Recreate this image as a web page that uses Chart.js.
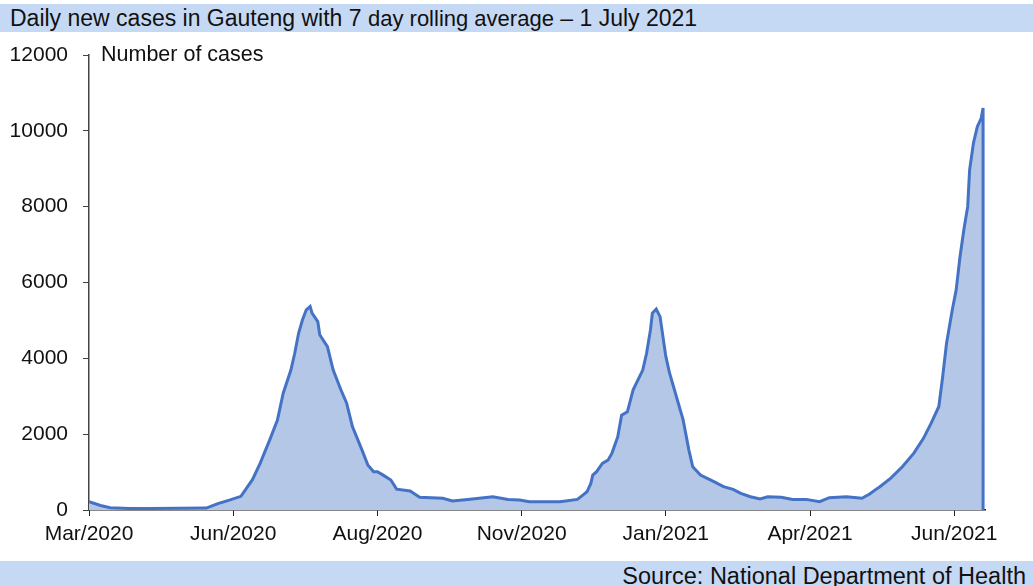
<!DOCTYPE html>
<html>
<head>
<meta charset="utf-8">
<script src="https://cdn.jsdelivr.net/npm/chart.js@4"></script>
<style>
  body { margin: 0; width: 1033px; height: 586px; overflow: hidden; background: #fff; position: relative;
         font-family: "Liberation Sans", Arial, sans-serif; color: #111; }
  #chart-box { position: absolute; left: 0; top: 0; width: 1033px; height: 586px; }
  .barra { position: absolute; left: 0; width: 1033px; background: #c6d9f4; overflow: hidden; white-space: nowrap; }
  #titulo { top: 4px; height: 28px; line-height: 29px; font-size: 23px; padding-left: 10px; box-sizing: border-box; }
  #titulo span { font-size: 22px; }
  #fonte { top: 561px; height: 25px; line-height: 31px; font-size: 23.5px; text-align: right; padding-right: 7px; box-sizing: border-box; }
  #eixoY { position: absolute; left: 101px; top: 42px; font-size: 21.5px; line-height: 24px; }
</style>
</head>
<body>
<div id="chart-box"><canvas id="grafico" width="1033" height="586"></canvas></div>
<div class="barra" id="titulo">Daily new cases in Gauteng with 7 <span>day rolling average</span> – 1 July 2021</div>
<div id="eixoY">Number of cases</div>
<div class="barra" id="fonte">Source: National Department of Health</div>
<script>
// dias contados a partir do inicio da serie (Mar/2020)
var dias = [0, 6, 11, 21, 32, 47, 61, 63, 67, 73,
  79, 85, 89, 94, 98, 101, 105, 107, 109, 111,
  113, 115, 116, 119, 120, 124, 127, 131, 134, 137,
  142, 145, 148, 150, 153, 157, 160, 167, 172, 184,
  189, 197, 210, 218, 224, 229, 245, 254, 257, 259,
  261, 262, 264, 267, 270, 272, 275, 277, 280, 283,
  288, 290, 292, 293, 295, 297, 300, 302, 306, 309,
  312, 314, 318, 325, 330, 335, 339, 344, 349, 353,
  360, 366, 373, 380, 385, 394, 402, 406, 410, 411,
  417, 423, 429, 434, 438, 442, 444, 446, 449, 451,
  453, 455, 457, 458, 460, 462, 464, 465, 465];

// media movel de 7 dias
var casos = [220, 120, 60, 40, 40, 45, 50, 87, 170, 260,
  360, 800, 1230, 1850, 2375, 3080, 3690, 4135, 4660, 5010,
  5280, 5370, 5190, 4970, 4620, 4310, 3690, 3170, 2815, 2200,
  1580, 1190, 1010, 1010, 920, 790, 550, 500, 335, 310,
  240, 280, 350, 280, 265, 220, 220, 280, 400, 480,
  700, 920, 1010, 1230, 1320, 1500, 1930, 2500, 2590, 3170,
  3690, 4135, 4750, 5190, 5300, 5100, 4050, 3600, 2900, 2375,
  1580, 1140, 920, 750, 615, 545, 440, 350, 290, 350,
  335, 280, 280, 220, 325, 350, 310, 420, 570, 600,
  840, 1140, 1500, 1890, 2290, 2730, 3520, 4400, 5280, 5800,
  6680, 7390, 8000, 8970, 9680, 10110, 10330, 10600, 0];

var diasRotulo = [0, 75, 150, 225, 300, 375, 450];
var rotulosX = ['Mar/2020', 'Jun/2020', 'Aug/2020', 'Nov/2020', 'Jan/2021', 'Apr/2021', 'Jun/2021'];

function gerarGrafico() {
  var pontos = [];
  for (var i = 0; i < dias.length; i++) {
    pontos.push({ x: dias[i], y: casos[i] });
  }

  var fonte = { family: '"Liberation Sans", Arial, sans-serif', size: 21 };
  var ctx = document.getElementById('grafico').getContext('2d');

  new Chart(ctx, {
    type: 'line',
    data: {
      datasets: [{
        data: pontos,
        borderColor: '#4472c4',
        backgroundColor: '#b4c7e7',
        borderWidth: 3,
        pointRadius: 0,
        fill: 'origin',
        tension: 0
      }]
    },
    options: {
      responsive: false,
      animation: false,
      layout: { padding: { top: 55, right: 48, left: 0, bottom: 0 } },
      plugins: { legend: { display: false }, tooltip: { enabled: false } },
      scales: {
        x: {
          type: 'linear',
          min: 0,
          max: 466,
          afterBuildTicks: function (eixo) {
            eixo.ticks = diasRotulo.map(function (d) { return { value: d }; });
          },
          afterFit: function (eixo) { eixo.height = 76; },
          ticks: {
            autoSkip: false,
            maxRotation: 0,
            padding: 6,
            color: '#111',
            font: fonte,
            callback: function (valor, indice) { return rotulosX[indice]; }
          },
          grid: { drawOnChartArea: false, drawTicks: true, tickLength: 6, color: '#222' },
          border: { color: '#111', width: 1.5 }
        },
        y: {
          min: 0,
          max: 12000,
          afterFit: function (eixo) { eixo.width = 89; },
          ticks: {
            stepSize: 2000,
            padding: 15,
            color: '#111',
            font: fonte,
            callback: function (valor) { return String(valor); }
          },
          grid: { drawOnChartArea: false, drawTicks: true, tickLength: 6, color: '#444' },
          border: { color: '#444', width: 1.5 }
        }
      }
    }
  });
}

gerarGrafico();
</script>
</body>
</html>
